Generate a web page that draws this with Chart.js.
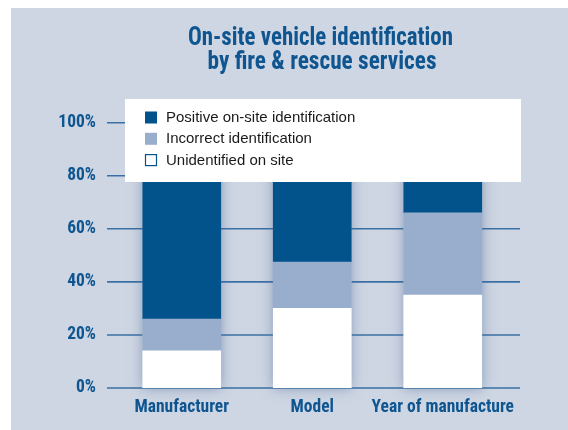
<!DOCTYPE html>
<html>
<head>
<meta charset="utf-8">
<script src="https://cdn.jsdelivr.net/npm/chart.js@4/dist/chart.umd.min.js"></script>
<style>
  html, body { margin: 0; padding: 0; background: #ffffff; }
  #wrap { width: 568px; height: 430px; position: relative; }
</style>
</head>
<body>
<div id="wrap"><canvas id="c" width="568" height="430"></canvas></div>
<script>
const titleLines = ['On-site vehicle identification', 'by fire & rescue services'];
const categories = ['Manufacturer', 'Model', 'Year of manufacture'];
const unidentified = [14, 30, 35];
const incorrect = [12, 17.5, 31];
const positive = [74, 52.5, 34];
const yTicks = [0, 20, 40, 60, 80, 100];
const seriesNames = ['Unidentified on site', 'Incorrect identification', 'Positive on-site identification'];

const DARK = '#02528b';
const LIGHT = '#99aecd';
const PANEL = '#ced6e3';
const TEXTBLUE = '#0f5590';
const GRID = '#3a70a4';
const CONDENSED = "'Roboto Condensed', 'DejaVu Sans Condensed', sans-serif";

const panelPlugin = {
  id: 'panel',
  beforeDraw(chart) {
    const ctx = chart.ctx;
    ctx.save();
    ctx.fillStyle = '#ffffff';
    ctx.fillRect(0, 0, chart.width, chart.height);
    ctx.fillStyle = PANEL;
    ctx.fillRect(11, 8, chart.width - 11, chart.height - 8);
    // title
    ctx.fillStyle = TEXTBLUE;
    ctx.font = "bold 25px " + CONDENSED;
    ctx.textAlign = 'center';
    ctx.textBaseline = 'alphabetic';
    ctx.fillText(titleLines[0], 320.5, 45, 265);
    ctx.fillText(titleLines[1], 322, 69, 229);
    ctx.restore();
  }
};

const gridPlugin = {
  id: 'customGrid',
  beforeDatasetsDraw(chart) {
    const ctx = chart.ctx;
    const y = chart.scales.y;
    ctx.save();
    ctx.strokeStyle = GRID;
    ctx.lineWidth = 1.6;
    yTicks.forEach(v => {
      const py = y.getPixelForValue(v);
      ctx.beginPath();
      ctx.moveTo(107, py);
      ctx.lineTo(520, py);
      ctx.stroke();
    });
    ctx.restore();
  }
};

const shadowPlugin = {
  id: 'barShadow',
  beforeDatasetsDraw(chart) {
    const ctx = chart.ctx;
    const y = chart.scales.y;
    const meta = chart.getDatasetMeta(0);
    ctx.save();
    ctx.shadowColor = 'rgba(70, 100, 150, 0.55)';
    ctx.shadowBlur = 12;
    ctx.fillStyle = PANEL;
    meta.data.forEach((bar, i) => {
      const total = unidentified[i] + incorrect[i] + positive[i];
      const top = y.getPixelForValue(total);
      const bottom = y.getPixelForValue(0);
      ctx.fillRect(bar.x - bar.width / 2, top, bar.width, bottom - top);
    });
    ctx.restore();
  }
};

const legendPlugin = {
  id: 'overlayLegend',
  afterDatasetsDraw(chart) {
    const ctx = chart.ctx;
    ctx.save();
    ctx.fillStyle = '#ffffff';
    ctx.fillRect(125, 99, 396, 83);
    const ds = chart.data.datasets.slice().reverse();
    ctx.font = "15px 'Liberation Sans', Arial, sans-serif";
    ctx.textBaseline = 'middle';
    ctx.textAlign = 'left';
    ds.forEach((d, i) => {
      const cy = 117.5 + i * 21.3;
      if (d.backgroundColor === '#ffffff') {
        ctx.fillStyle = '#ffffff';
        ctx.fillRect(145.5, cy - 5.5, 11, 11);
        ctx.strokeStyle = DARK;
        ctx.lineWidth = 1.2;
        ctx.strokeRect(145.5, cy - 5.5, 11, 11);
      } else {
        ctx.fillStyle = d.backgroundColor;
        ctx.fillRect(145, cy - 6, 12, 12);
      }
      ctx.fillStyle = '#1a1a1a';
      ctx.fillText(d.label, 166, cy + 0.5);
    });
    ctx.restore();
  }
};

new Chart(document.getElementById('c'), {
  type: 'bar',
  data: {
    labels: categories,
    datasets: [
      { label: seriesNames[0], data: unidentified, backgroundColor: '#ffffff' },
      { label: seriesNames[1], data: incorrect, backgroundColor: LIGHT },
      { label: seriesNames[2], data: positive, backgroundColor: DARK }
    ]
  },
  options: {
    responsive: false,
    animation: false,
    layout: { padding: { top: 122.7, right: 60, bottom: 0, left: 0 } },
    datasets: { bar: { barThickness: 78, borderWidth: 0 } },
    plugins: {
      legend: { display: false },
      title: { display: false },
      tooltip: { enabled: false }
    },
    scales: {
      x: {
        stacked: true,
        grid: { display: false, drawTicks: false },
        border: { display: false },
        ticks: {
          color: TEXTBLUE,
          font: { family: CONDENSED, size: 17.5, weight: 'bold' },
          padding: 9,
          maxRotation: 0,
          autoSkip: false
        },
        afterFit(scale) { scale.height = 430 - 388; }
      },
      y: {
        stacked: true,
        min: 0,
        max: 100,
        grid: { display: false, drawTicks: false },
        border: { display: false },
        afterBuildTicks(scale) { scale.ticks = yTicks.map(v => ({ value: v })); },
        ticks: {
          color: TEXTBLUE,
          font: { family: CONDENSED, size: 17.5, weight: 'bold' },
          padding: 20.5,
          callback: v => v + '%'
        },
        afterFit(scale) { scale.width = 116.5; }
      }
    }
  },
  plugins: [panelPlugin, gridPlugin, shadowPlugin, legendPlugin]
});
</script>
</body>
</html>
